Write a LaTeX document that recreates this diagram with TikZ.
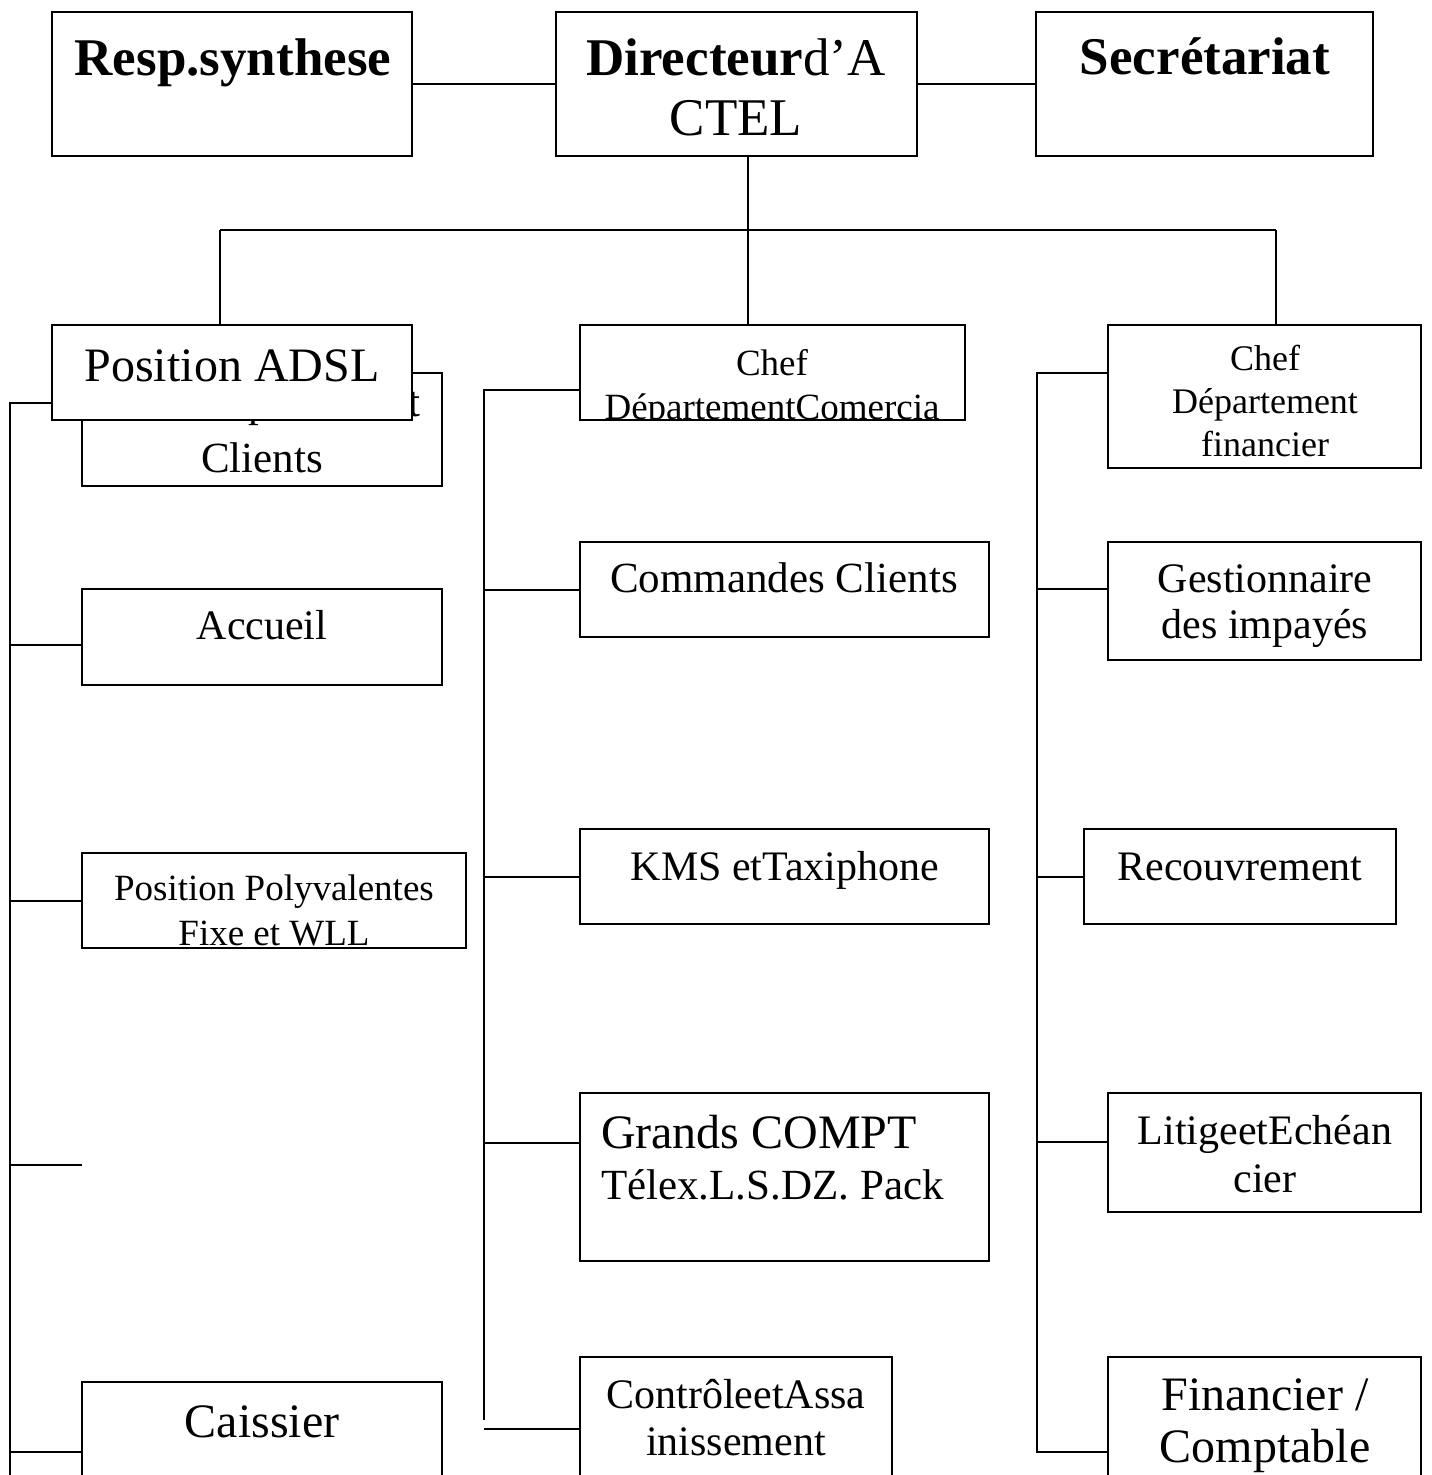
\documentclass[tikz,border=0pt]{standalone}
\usepackage{fontspec}
\setmainfont{Liberation Serif}
\newcommand{\fsz}[2]{\fontsize{#1}{#2}\selectfont}
\newcommand{\twol}[2]{\begin{tabular}[t]{@{}c@{}}#1\\#2\end{tabular}}
\begin{document}
\begin{tikzpicture}[x=1pt,y=-1pt,line width=2pt,
  box/.style={draw,line width=2pt,fill=white,anchor=north west,inner sep=0pt,outer sep=0pt},
  txt/.style={anchor=base,inner sep=0pt,outer sep=0pt},
  conn/.style={line width=2pt}]
\useasboundingbox (0,0) rectangle (1432,1475);
\clip (0,0) rectangle (1432,1475);

% ---------- top row ----------
\node[box,minimum width=360,minimum height=144] (resp) at (52,12) {};
\node[box,minimum width=361,minimum height=144] (dir) at (556,12) {};
\node[box,minimum width=337,minimum height=144] (sec) at (1036,12) {};
\node[txt] (resp-t) at (233,75) {\fsz{53}{60}\bfseries Resp.synthese};
\node[txt] (dir-t) at (736,75) {\fsz{53}{60}\twol{\textbf{Directeur}d’A}{CTEL}};
\node[txt] (sec-t) at (1205,74) {\fsz{53}{60}\bfseries Secrétariat};
\draw[conn] (resp.east) -- (dir.west);
\draw[conn] (dir.east) -- (sec.west);

\coordinate (j) at (748,230);
\coordinate (jl) at (220,230);
\coordinate (jr) at (1276,230);

% ---------- left column ----------
\node[box,minimum width=360,minimum height=113] (cli) at (82,373) {};
\node[txt] (cli-t) at (262,416) {\fsz{43}{56}\twol{Chef Département}{Clients}};
\node[box,minimum width=360,minimum height=95] (adsl) at (52,325) {};
\node[txt] (adsl-t) at (232,381) {\fsz{48}{55}Position ADSL};

\node[box,minimum width=360,minimum height=96] (acc) at (82,589) {};
\node[txt] (acc-t) at (262,639) {\fsz{42}{48}Accueil};

\node[box,minimum width=384,minimum height=95] (pp) at (82,853) {};
\begin{scope}
\clip (82,853) rectangle (466,947);
\node[txt] (pp-t) at (274,900) {\fsz{37}{45}\twol{Position Polyvalentes}{Fixe et WLL}};
\end{scope}

\coordinate (vide) at (82,1165);

\node[box,minimum width=360,minimum height=150] (cai) at (82,1382) {};
\node[txt] (cai-t) at (262,1437) {\fsz{48}{55}Caissier};

% ---------- middle column ----------
\node[box,minimum width=385,minimum height=95] (chefc) at (580,325) {};
\begin{scope}
\clip (580,325) rectangle (965,419);
\node[txt] (chefc-t) at (772,375) {\fsz{37}{44}\twol{Chef}{DépartementComercia}};
\end{scope}

\node[box,minimum width=409,minimum height=95] (cmd) at (580,542) {};
\node[txt] (cmd-t) at (784,592) {\fsz{43}{49}Commandes Clients};

\node[box,minimum width=409,minimum height=95] (kms) at (580,829) {};
\node[txt] (kms-t) at (785,880) {\fsz{42}{48}KMS etTaxiphone};

\node[box,minimum width=409,minimum height=168] (gc) at (580,1093) {};
\node[txt,anchor=base west] (gc-t1) at (601,1148) {\fsz{48}{55}Grands COMPT};
\node[txt,anchor=base west] (gc-t2) at (601,1199) {\fsz{43}{49}Télex.L.S.DZ. Pack};

\node[box,minimum width=312,minimum height=150] (ctl) at (580,1357) {};
\node[txt] (ctl-t) at (736,1408) {\fsz{42}{47}\twol{ContrôleetAssa}{inissement}};

% ---------- right column ----------
\node[box,minimum width=313,minimum height=143] (cheff) at (1108,325) {};
\node[txt] (cheff-t) at (1265,370) {\fsz{36}{43}\begin{tabular}[t]{@{}c@{}}Chef\\Département\\financier\end{tabular}};

\node[box,minimum width=313,minimum height=118] (gest) at (1108,542) {};
\node[txt] (gest-t) at (1265,592) {\fsz{42}{46}\twol{Gestionnaire}{des impayés}};

\node[box,minimum width=312,minimum height=95] (rec) at (1084,829) {};
\node[txt] (rec-t) at (1240,880) {\fsz{42}{48}Recouvrement};

\node[box,minimum width=313,minimum height=119] (lit) at (1108,1093) {};
\node[txt] (lit-t) at (1265,1144) {\fsz{42}{48}\twol{LitigeetEchéan}{cier}};

\node[box,minimum width=313,minimum height=150] (fin) at (1108,1357) {};
\node[txt] (fin-t) at (1265,1410) {\fsz{48}{52}\twol{Financier /}{Comptable}};

% ---------- connectors ----------
\draw[conn] (dir.south -| j) -- (j);
\draw[conn] (jl) -- (jr);
\draw[conn] (jl) -- (adsl.north -| jl);
\draw[conn] (j) -- (chefc.north -| j);
\draw[conn] (jr) -- (cheff.north -| jr);

% left bus
\coordinate (lb) at (10,403);
\coordinate (lbend) at (10,1475);
\draw[conn] (adsl.west |- lb) -- (lb) -- (lbend);
\draw[conn] (lb |- 0,645) -- (acc.west |- 0,645);
\draw[conn] (lb |- pp.west) -- (pp.west);
\draw[conn] (lb |- vide) -- (vide);
\draw[conn] (lb |- 0,1452) -- (cai.west |- 0,1452);

% middle bus
\coordinate (mb) at (484,390);
\coordinate (mbend) at (484,1420);
\draw[conn] (chefc.west |- mb) -- (mb) -- (mbend);
\draw[conn] (mb |- cmd.west) -- (cmd.west);
\draw[conn] (mb |- kms.west) -- (kms.west);
\draw[conn] (mb |- 0,1143) -- (gc.west |- 0,1143);
\draw[conn] (mb |- 0,1429) -- (ctl.west |- 0,1429);

% right bus
\coordinate (rb) at (1037,373);
\coordinate (rbend) at (1037,1452);
\draw[conn] (cheff.west |- rb) -- (rb) -- (rbend) -- (fin.west |- rbend);
\draw[conn] (rb |- 0,589) -- (gest.west |- 0,589);
\draw[conn] (rb |- rec.west) -- (rec.west);
\draw[conn] (rb |- 0,1142) -- (lit.west |- 0,1142);
\end{tikzpicture}
\end{document}
